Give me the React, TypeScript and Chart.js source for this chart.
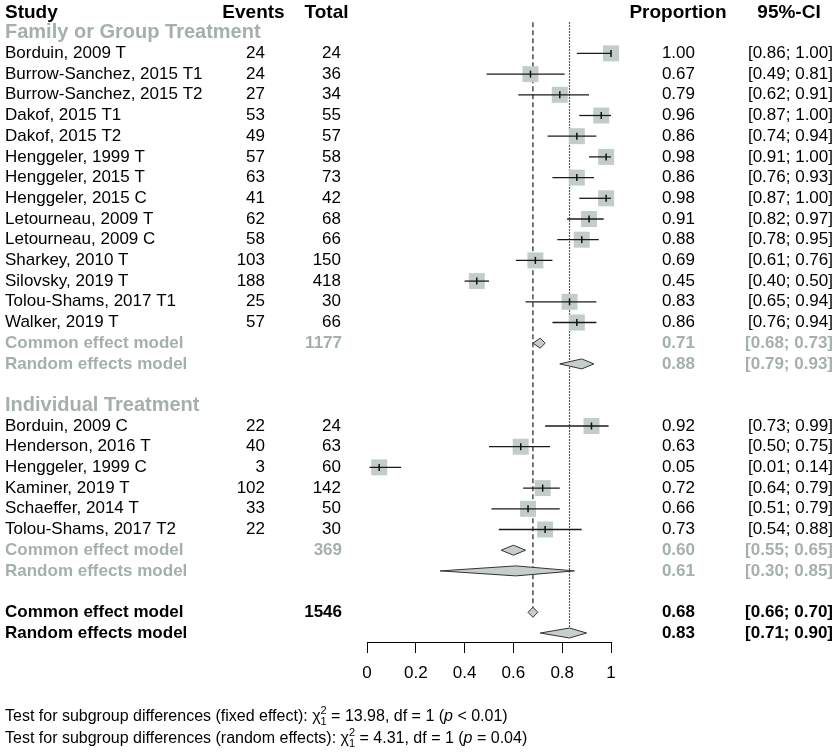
import React, { useEffect, useRef } from "react";
import { Chart, registerables } from "chart.js";

Chart.register(...registerables);

// ---------- data ----------
const familyTitle = "Family or Group Treatment";
const familyNames = [
  "Borduin, 2009 T", "Burrow-Sanchez, 2015 T1", "Burrow-Sanchez, 2015 T2", "Dakof, 2015 T1",
  "Dakof, 2015 T2", "Henggeler, 1999 T", "Henggeler, 2015 T", "Henggeler, 2015 C",
  "Letourneau, 2009 T", "Letourneau, 2009 C", "Sharkey, 2010 T", "Silovsky, 2019 T",
  "Tolou-Shams, 2017 T1", "Walker, 2019 T",
];
const familyEvents = [24, 24, 27, 53, 49, 57, 63, 41, 62, 58, 103, 188, 25, 57];
const familyTotals = [24, 36, 34, 55, 57, 58, 73, 42, 68, 66, 150, 418, 30, 66];
const familyProp = [1.0, 0.67, 0.79, 0.96, 0.86, 0.98, 0.86, 0.98, 0.91, 0.88, 0.69, 0.45, 0.83, 0.86];
const familyLower = [0.86, 0.49, 0.62, 0.87, 0.74, 0.91, 0.76, 0.87, 0.82, 0.78, 0.61, 0.40, 0.65, 0.76];
const familyUpper = [1.0, 0.81, 0.91, 1.0, 0.94, 1.0, 0.93, 1.0, 0.97, 0.95, 0.76, 0.50, 0.94, 0.94];
const familySummaryTotal = 1177;
const familySummaryEst = [0.71, 0.88];
const familySummaryLower = [0.68, 0.79];
const familySummaryUpper = [0.73, 0.93];

const individualTitle = "Individual Treatment";
const individualNames = [
  "Borduin, 2009 C", "Henderson, 2016 T", "Henggeler, 1999 C", "Kaminer, 2019 T",
  "Schaeffer, 2014 T", "Tolou-Shams, 2017 T2",
];
const individualEvents = [22, 40, 3, 102, 33, 22];
const individualTotals = [24, 63, 60, 142, 50, 30];
const individualProp = [0.92, 0.63, 0.05, 0.72, 0.66, 0.73];
const individualLower = [0.73, 0.50, 0.01, 0.64, 0.51, 0.54];
const individualUpper = [0.99, 0.75, 0.14, 0.79, 0.79, 0.88];
const individualSummaryTotal = 369;
const individualSummaryEst = [0.60, 0.61];
const individualSummaryLower = [0.55, 0.30];
const individualSummaryUpper = [0.65, 0.85];

const overallSummaryTotal = 1546;
const overallEst = [0.68, 0.83];
const overallLower = [0.66, 0.71];
const overallUpper = [0.70, 0.90];

const summaryLabels = ["Common effect model", "Random effects model"];
const headerLabels = ["Study", "Events", "Total", "Proportion", "95%-CI"];

const tickValues = [0, 0.2, 0.4, 0.6, 0.8, 1];
const tickLabels = ["0", "0.2", "0.4", "0.6", "0.8", "1"];

const footerLabels = [
  "Test for subgroup differences (fixed effect): ",
  "Test for subgroup differences (random effects): ",
];
const footerChi = ["13.98", "4.31"];
const footerDf = ["1", "1"];
const footerP = ["< 0.01", "= 0.04"];

// ---------- styling / layout ----------
const FONT = '"Liberation Sans", Arial, Helvetica, sans-serif';
const GREY = "#a5afac";
const SQUARE = "#c4ccc9";
const DIAMOND_FILL = "#c6cdca";
const ROW0 = 12;
const ROWH = 20.7;
const AXIS_Y = 642;
const PLOT_LEFT = 367;
const PLOT_RIGHT = 611;
const W = 840;
const H = 752;

type Row =
  | { kind: "header" }
  | { kind: "title"; text: string }
  | { kind: "study"; name: string; ev: number; tot: number; p: number; lo: number; hi: number }
  | { kind: "summary"; label: string; tot: number | null; p: number; lo: number; hi: number; color: string }
  | { kind: "blank" };

function buildRows(): Row[] {
  const rows: Row[] = [{ kind: "header" }];
  const addGroup = (
    title: string, names: string[], ev: number[], tot: number[], p: number[], lo: number[], hi: number[],
    sTot: number, sEst: number[], sLo: number[], sHi: number[]
  ) => {
    rows.push({ kind: "title", text: title });
    names.forEach((n, i) => rows.push({ kind: "study", name: n, ev: ev[i], tot: tot[i], p: p[i], lo: lo[i], hi: hi[i] }));
    summaryLabels.forEach((l, i) =>
      rows.push({ kind: "summary", label: l, tot: i === 0 ? sTot : null, p: sEst[i], lo: sLo[i], hi: sHi[i], color: GREY })
    );
    rows.push({ kind: "blank" });
  };
  addGroup(familyTitle, familyNames, familyEvents, familyTotals, familyProp, familyLower, familyUpper,
    familySummaryTotal, familySummaryEst, familySummaryLower, familySummaryUpper);
  addGroup(individualTitle, individualNames, individualEvents, individualTotals, individualProp, individualLower, individualUpper,
    individualSummaryTotal, individualSummaryEst, individualSummaryLower, individualSummaryUpper);
  summaryLabels.forEach((l, i) =>
    rows.push({ kind: "summary", label: l, tot: i === 0 ? overallSummaryTotal : null, p: overallEst[i], lo: overallLower[i], hi: overallUpper[i], color: "#000" })
  );
  return rows;
}

const ci = (lo: number, hi: number) => `[${lo.toFixed(2)}; ${hi.toFixed(2)}]`;

export default function App() {
  const ref = useRef<HTMLCanvasElement>(null);

  useEffect(() => {
    document.body.style.margin = "0";
    const rows = buildRows();
    const overallCommonRow = rows.length - 2;
    const overallRandomRow = rows.length - 1;

    const squares: any[] = [];
    const ticks: any[] = [];
    const ciDatasets: any[] = [];
    rows.forEach((r, i) => {
      if (r.kind === "study") {
        squares.push({ x: r.p, y: i });
        ticks.push({ x: r.p, y: i });
        ciDatasets.push({
          data: [{ x: r.lo, y: i }, { x: r.hi, y: i }],
          showLine: true,
          borderColor: "#1a1a1a",
          borderWidth: 1.3,
          pointRadius: 0,
          order: 2,
          clip: false,
        });
      }
    });

    const yMin = -0.5;
    const yMax = (AXIS_Y - ROW0) / ROWH;
    const topPad = ROW0 + yMin * ROWH;

    const forestPlugin = {
      id: "forestText",
      afterDatasetsDraw(chart: any) {
        const ctx: CanvasRenderingContext2D = chart.ctx;
        const xs = chart.scales.x;
        const ys = chart.scales.y;
        ctx.save();
        // diamonds
        rows.forEach((r, i) => {
          if (r.kind !== "summary") return;
          const yc = ys.getPixelForValue(i);
          ctx.beginPath();
          ctx.moveTo(xs.getPixelForValue(r.lo), yc);
          ctx.lineTo(xs.getPixelForValue(r.p), yc - 5);
          ctx.lineTo(xs.getPixelForValue(r.hi), yc);
          ctx.lineTo(xs.getPixelForValue(r.p), yc + 5);
          ctx.closePath();
          ctx.fillStyle = DIAMOND_FILL;
          ctx.fill();
          ctx.strokeStyle = "#333";
          ctx.lineWidth = 1;
          ctx.stroke();
        });

        const text = (s: string, x: number, y: number, align: CanvasTextAlign, font: string, color: string) => {
          ctx.font = font;
          ctx.fillStyle = color;
          ctx.textAlign = align;
          ctx.textBaseline = "middle";
          ctx.fillText(s, x, y);
        };
        const reg = `17px ${FONT}`;
        const bold = `bold 17px ${FONT}`;
        const head = `bold 19px ${FONT}`;

        rows.forEach((r, i) => {
          const y = ys.getPixelForValue(i);
          if (r.kind === "header") {
            text(headerLabels[0], 5, y + 1, "left", head, "#000");
            text(headerLabels[1], 253.5, y + 1, "center", head, "#000");
            text(headerLabels[2], 326.5, y + 1, "center", head, "#000");
            text(headerLabels[3], 678, y + 1, "center", head, "#000");
            text(headerLabels[4], 789, y + 1, "center", head, "#000");
          } else if (r.kind === "title") {
            text(r.text, 5, y, "left", `bold 20px ${FONT}`, GREY);
          } else if (r.kind === "study") {
            text(r.name, 5, y, "left", reg, "#000");
            text(String(r.ev), 265, y, "right", reg, "#000");
            text(String(r.tot), 341, y, "right", reg, "#000");
            text(r.p.toFixed(2), 695, y, "right", reg, "#000");
            text(ci(r.lo, r.hi), 833, y, "right", reg, "#000");
          } else if (r.kind === "summary") {
            text(r.label, 5, y, "left", bold, r.color);
            if (r.tot !== null) text(String(r.tot), 342, y, "right", bold, r.color);
            text(r.p.toFixed(2), 695, y, "right", bold, r.color);
            text(ci(r.lo, r.hi), 833, y, "right", bold, r.color);
          }
        });

        // footer
        const fy = [717, 739];
        footerLabels.forEach((lab, k) => {
          let x = 5;
          const y = fy[k];
          const seg = (s: string, font: string, dy = 0) => {
            ctx.font = font;
            ctx.fillStyle = "#000";
            ctx.textAlign = "left";
            ctx.textBaseline = "middle";
            ctx.fillText(s, x, y + dy);
            return ctx.measureText(s).width;
          };
          const f = `16px ${FONT}`;
          const small = `11px ${FONT}`;
          x += seg(lab, f);
          x += seg("\u03C7", f);
          const w1 = seg("2", small, -6);
          const w2 = seg("1", small, 5);
          x += Math.max(w1, w2);
          x += seg(` = ${footerChi[k]}, df = ${footerDf[k]} (`, f);
          x += seg("p", `italic 16px ${FONT}`);
          x += seg(` ${footerP[k]})`, f);
        });
        ctx.restore();
      },
    };

    const chart = new Chart(ref.current!, {
      type: "scatter",
      data: {
        datasets: [
          {
            data: [{ x: overallEst[0], y: 0.5 }, { x: overallEst[0], y: overallCommonRow }],
            showLine: true,
            borderColor: "#222",
            borderWidth: 1.2,
            borderDash: [5, 3],
            pointRadius: 0,
            order: 5,
            clip: false,
          } as any,
          {
            data: [{ x: overallEst[1], y: 0.5 }, { x: overallEst[1], y: overallRandomRow }],
            showLine: true,
            borderColor: "#222",
            borderWidth: 1.2,
            borderDash: [1.5, 1.5],
            pointRadius: 0,
            order: 4,
            clip: false,
          } as any,
          {
            data: squares,
            pointStyle: "rect",
            pointRadius: 11.3,
            backgroundColor: SQUARE,
            borderWidth: 0,
            order: 3,
            clip: false,
          } as any,
          ...ciDatasets,
          {
            data: ticks,
            pointStyle: "line",
            rotation: 90,
            pointRadius: 3.5,
            borderColor: "#111",
            borderWidth: 1.5,
            order: 1,
            clip: false,
          } as any,
        ],
      },
      options: {
        responsive: false,
        animation: false,
        devicePixelRatio: 1,
        events: [],
        layout: { autoPadding: false, padding: { left: PLOT_LEFT, right: W - PLOT_RIGHT, top: topPad, bottom: 0 } },
        plugins: { legend: { display: false }, tooltip: { enabled: false } },
        scales: {
          x: {
            type: "linear",
            min: 0,
            max: 1,
            afterFit: (s: any) => { s.height = H - AXIS_Y; },
            afterBuildTicks: (s: any) => { s.ticks = tickValues.map((v) => ({ value: v })); },
            ticks: {
              callback: (v: any) => tickLabels[tickValues.indexOf(Number(v))] ?? "",
              color: "#000",
              font: { family: FONT, size: 17 },
              padding: 10,
              maxRotation: 0,
            },
            grid: { drawOnChartArea: false, drawTicks: true, tickLength: 11, color: "#000", lineWidth: 1 },
            border: { display: true, color: "#000", width: 1 },
          },
          y: {
            type: "linear",
            reverse: true,
            min: yMin,
            max: yMax,
            display: false,
          },
        },
      },
      plugins: [forestPlugin],
    } as any);
    return () => chart.destroy();
  }, []);

  return <canvas ref={ref} width={W} height={H} style={{ display: "block" }} />;
}
